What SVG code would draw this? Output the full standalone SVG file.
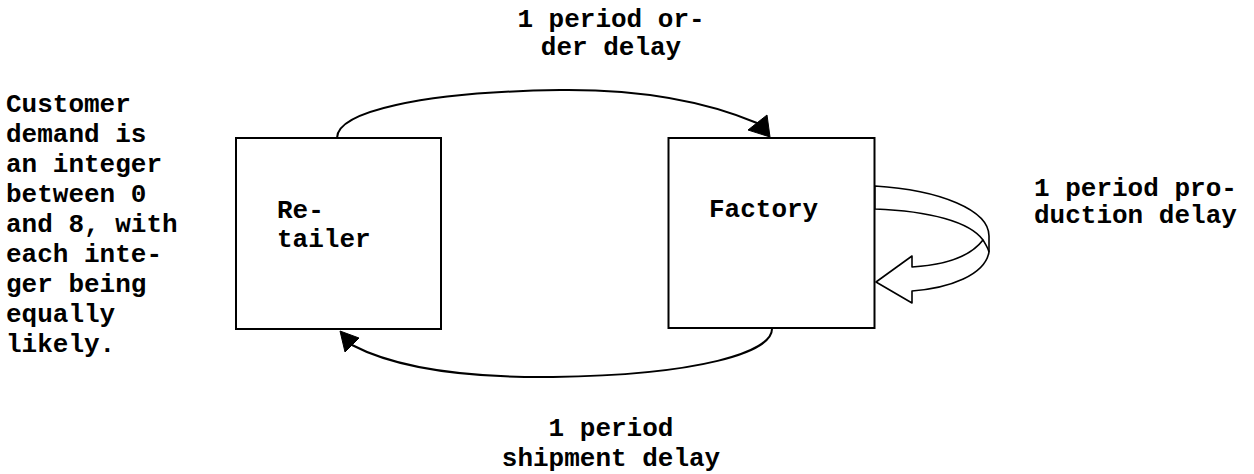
<svg xmlns="http://www.w3.org/2000/svg" width="1254" height="474" viewBox="0 0 1254 474">
<style>
text{font-family:"Liberation Mono","Courier New",monospace;font-weight:bold;font-size:26px;fill:#000}
.box{fill:#fff;stroke:#000;stroke-width:2}
.arc{fill:none;stroke:#000;stroke-width:2}
.loop{fill:#fff;stroke:#000;stroke-width:1.6;stroke-linejoin:round}
.head{fill:#000;stroke:#000;stroke-width:1}
</style>
<rect width="1254" height="474" fill="#fff"/>
<g id="customer-note">
<text x="6" y="112">Customer</text>
<text x="6" y="142">demand is</text>
<text x="6" y="172">an integer</text>
<text x="6" y="202">between 0</text>
<text x="6" y="232">and 8, with</text>
<text x="6" y="262">each inte-</text>
<text x="6" y="292">ger being</text>
<text x="6" y="322">equally</text>
<text x="6" y="352">likely.</text>
</g>
<g id="retailer">
<rect class="box" x="236" y="138" width="205" height="191"/>
<text x="277" y="218">Re-</text>
<text x="277" y="247">tailer</text>
</g>
<g id="factory">
<rect class="box" x="668.5" y="138" width="206" height="190"/>
<text x="709" y="217">Factory</text>
</g>
<g id="connectors">
<path class="arc" d="M337,138 C337,112 420,92 560,90 C650,89 712,104 757,123"/>
<polygon class="head" points="770,137 748,130 767,115"/>
<path class="arc" d="M772,329 C772,352 700,375 553,377 C460,378 392,366 352,345"/>
<polygon class="head" points="340,331 345,352 359,338"/>
<g id="production-loop">
<path class="loop" d="M875,186 C940,190 989,210 989,236 L989,252 C985,275 950,288 912,291 L912,303 L876,282 L912,256 L912,267 C945,265 970,257 983,240 C970,222 930,211 875,209 Z"/>
<path class="loop" d="M983,240 C986,245 988,248 989,252" fill="none"/>
</g>
</g>
<g id="labels">
<text x="611" y="27" text-anchor="middle">1 period or-</text>
<text x="611" y="55" text-anchor="middle">der delay</text>
<text x="1034" y="196">1 period pro-</text>
<text x="1034" y="223">duction delay</text>
<text x="611" y="436" text-anchor="middle">1 period</text>
<text x="611" y="466" text-anchor="middle">shipment delay</text>
</g>
</svg>
